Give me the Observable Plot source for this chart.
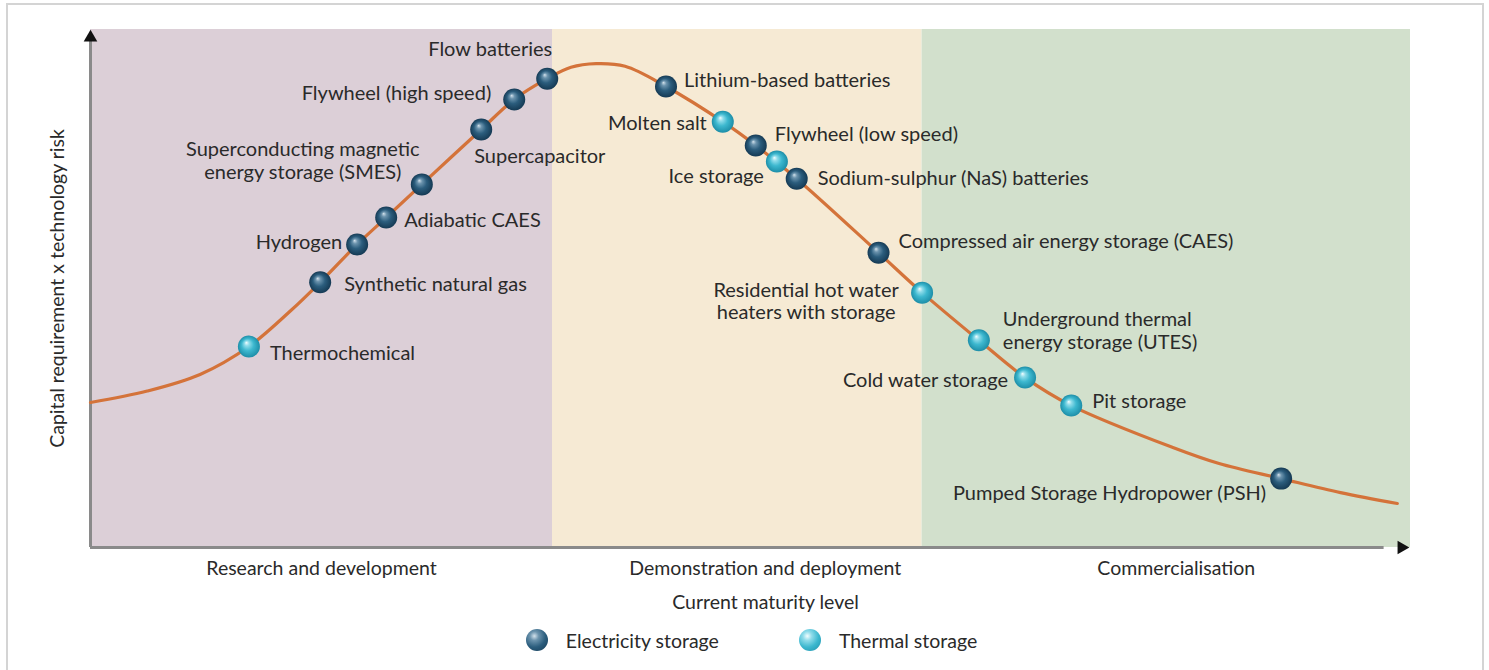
<!DOCTYPE html>
<html>
<head>
<meta charset="utf-8">
<script src="https://cdn.jsdelivr.net/npm/d3@7"></script>
<script src="https://cdn.jsdelivr.net/npm/@observablehq/plot@0.6"></script>
<style>
  html, body { margin: 0; padding: 0; background: #fff; }
  body { width: 1489px; height: 670px; position: relative; overflow: hidden; font-family: Lato, "Open Sans", sans-serif; }
  #frame { position: absolute; left: 6px; top: 3px; width: 1474px; height: 700px; border: 2px solid #d4d4d4; border-bottom: none; pointer-events: none; }
  #chart { position: absolute; left: 0; top: 0; }
  #legend { position: absolute; left: 0; top: 620px; width: 1489px; height: 40px; display: flex; justify-content: center; align-items: center; padding-left: 14px; box-sizing: border-box; font-size: 19.5px; color: #2a2a2a; }
  .item { display: flex; align-items: center; margin: 0 40px; }
  .ball { width: 22px; height: 22px; border-radius: 50%; margin-right: 18px; }
  .elec { background: radial-gradient(circle at 38% 32%, #d3e2ec 0%, #6b93ad 22%, #2b5d7d 55%, #153a54 100%); }
  .therm { background: radial-gradient(circle at 38% 32%, #f2fdff 0%, #8fdcea 22%, #3db8cf 55%, #1d8ea8 100%); }
</style>
</head>
<body>
<div id="chart"></div>
<div id="legend"></div>
<div id="frame"></div>
<script>
// ---- Data ----
const techNames = [
  "Thermochemical", "Synthetic natural gas", "Hydrogen", "Adiabatic CAES",
  "Superconducting magnetic\nenergy storage (SMES)", "Supercapacitor", "Flywheel (high speed)",
  "Flow batteries", "Lithium-based batteries", "Molten salt", "Flywheel (low speed)",
  "Ice storage", "Sodium-sulphur (NaS) batteries", "Compressed air energy storage (CAES)",
  "Residential hot water\nheaters with storage", "Underground thermal\nenergy storage (UTES)",
  "Cold water storage", "Pit storage", "Pumped Storage Hydropower (PSH)"
];
const techX = [12.0, 17.4, 20.2, 22.4, 25.1, 29.6, 32.1, 34.6, 43.6, 47.9, 50.4, 52.0, 53.5, 59.7, 63.0, 67.3, 70.8, 74.3, 90.2];
const techY = [38.8, 51.2, 58.5, 63.7, 70.1, 80.7, 86.5, 90.5, 89.0, 82.2, 77.6, 74.5, 71.2, 56.9, 49.2, 40.0, 32.8, 27.4, 13.3];
const techType = ["Thermal", "Electricity", "Electricity", "Electricity", "Electricity", "Electricity", "Electricity",
  "Electricity", "Electricity", "Thermal", "Electricity", "Thermal", "Electricity", "Electricity",
  "Thermal", "Thermal", "Thermal", "Thermal", "Electricity"];

const curveX = [0, 4.3, 8.3, 12.0, 15.2, 17.4, 20.2, 22.4, 25.1, 29.6, 32.1, 34.6, 36.4, 38.3, 40.5, 43.6, 47.9, 50.4, 53.5, 59.7, 63.0, 67.3, 70.8, 74.3, 82.0, 85.5, 90.2, 94.7, 99.0];
const curveY = [28.0, 30.2, 33.4, 38.8, 45.8, 51.2, 58.5, 63.7, 70.1, 80.7, 86.5, 90.5, 92.7, 93.4, 92.9, 89.0, 82.2, 77.6, 71.2, 56.9, 49.2, 40.0, 32.8, 27.4, 19.3, 16.2, 13.3, 10.6, 8.5];

const stageNames = ["Research and development", "Demonstration and deployment", "Commercialisation"];
const stageStart = [0, 35.0, 63.0];
const stageEnd = [35.0, 63.0, 100];

const legendNames = ["Electricity storage", "Thermal storage"];
const xTitle = "Current maturity level";
const yTitle = "Capital requirement x technology risk";

// ---- Styles / placement (not data) ----
const stageColors = ["#dccfd7", "#f6ead4", "#d2e0cc"];
const stageLabelDx = [0, 28, 10];
const labelPlacement = {
  "Thermochemical": ["start", 21, 6],
  "Synthetic natural gas": ["start", 24, 2],
  "Hydrogen": ["end", -15, -3],
  "Adiabatic CAES": ["start", 18, 2],
  "Superconducting magnetic\nenergy storage (SMES)": ["middle", -119, -24],
  "Supercapacitor": ["start", -7, 26],
  "Flywheel (high speed)": ["end", -23, -7],
  "Flow batteries": ["middle", -57, -30],
  "Lithium-based batteries": ["start", 18, -7],
  "Molten salt": ["end", -16, 1],
  "Flywheel (low speed)": ["start", 19, -12],
  "Ice storage": ["end", -13, 14],
  "Sodium-sulphur (NaS) batteries": ["start", 21, -1],
  "Compressed air energy storage (CAES)": ["start", 20, -12],
  "Residential hot water\nheaters with storage": ["middle", -116, 8],
  "Underground thermal\nenergy storage (UTES)": ["start", 24, -10],
  "Cold water storage": ["end", -17, 2],
  "Pit storage": ["start", 21, -5],
  "Pumped Storage Hydropower (PSH)": ["end", -15, 14]
};

const points = techNames.map((name, i) => ({name, x: techX[i], y: techY[i], type: techType[i]}));
const curve = curveX.map((x, i) => ({x, y: curveY[i]}));
const stages = stageNames.map((name, i) => ({name, x1: stageStart[i], x2: stageEnd[i], fill: stageColors[i], dx: stageLabelDx[i]}));

const textFill = "#2a2a2a";

const labelMarks = points.map(p => {
  const [anchor, dx, dy] = labelPlacement[p.name];
  return Plot.text([p], {x: "x", y: "y", text: "name", textAnchor: anchor, dx, dy, lineAnchor: "middle", lineHeight: 1.12, fontSize: 20, fill: textFill});
});

const stageLabelMarks = stages.map(s =>
  Plot.text([s], {x: d => (d.x1 + d.x2) / 2, text: "name", frameAnchor: "bottom", dy: 27, dx: s.dx, fill: textFill})
);

const svg = Plot.plot({
  width: 1489,
  height: 620,
  marginTop: 29,
  marginBottom: 73,
  marginLeft: 90,
  marginRight: 79,
  x: {domain: [0, 100], axis: null},
  y: {domain: [0, 100], axis: null},
  color: {type: "identity"},
  style: {fontFamily: "Lato, 'Open Sans', sans-serif", fontSize: "19.5px", background: "transparent", color: textFill},
  marks: [
    Plot.rect(stages, {x1: "x1", x2: "x2", y1: () => 0, y2: () => 100, fill: "fill"}),
    Plot.ruleX([0], {y1: 0, y2: 98, stroke: "#8a8a8a", strokeWidth: 3}),
    Plot.ruleY([0], {x1: 0, x2: 98, stroke: "#8a8a8a", strokeWidth: 3}),
    Plot.dot([0], {x: () => 0, y: () => 100, symbol: "triangle2", r: 6.5, fill: "#111", dy: 8}),
    Plot.dot([0], {x: () => 100, y: () => 0, symbol: "triangle2", r: 6.5, fill: "#111", rotate: 90, dx: -9}),
    Plot.line(curve, {x: "x", y: "y", curve: "catmull-rom", stroke: "#d4733a", strokeWidth: 3.2}),
    Plot.dot(points.filter(d => d.type === "Electricity"), {x: "x", y: "y", r: 11, fill: "url(#gElec)"}),
    Plot.dot(points.filter(d => d.type === "Thermal"), {x: "x", y: "y", r: 11, fill: "url(#gTherm)"}),
    ...labelMarks,
    ...stageLabelMarks,
    Plot.text([xTitle], {frameAnchor: "bottom", dy: 61, dx: 15, fill: textFill}),
    Plot.text([yTitle], {frameAnchor: "left", textAnchor: "middle", rotate: -90, dx: -33, fill: textFill})
  ]
});

d3.select(svg).insert("defs", ":first-child").html(`
  <radialGradient id="gElec" cx="0.5" cy="0.5" r="0.5" fx="0.38" fy="0.32">
    <stop offset="0%" stop-color="#d3e2ec"/>
    <stop offset="22%" stop-color="#6b93ad"/>
    <stop offset="55%" stop-color="#2b5d7d"/>
    <stop offset="100%" stop-color="#153a54"/>
  </radialGradient>
  <radialGradient id="gTherm" cx="0.5" cy="0.5" r="0.5" fx="0.38" fy="0.32">
    <stop offset="0%" stop-color="#f2fdff"/>
    <stop offset="22%" stop-color="#8fdcea"/>
    <stop offset="55%" stop-color="#3db8cf"/>
    <stop offset="100%" stop-color="#1d8ea8"/>
  </radialGradient>
`);

document.getElementById("chart").appendChild(svg);

const legend = d3.select("#legend");
legendNames.forEach((name, i) => {
  const item = legend.append("div").attr("class", "item");
  item.append("div").attr("class", "ball " + (i === 0 ? "elec" : "therm"));
  item.append("span").text(name);
});
</script>
</body>
</html>
